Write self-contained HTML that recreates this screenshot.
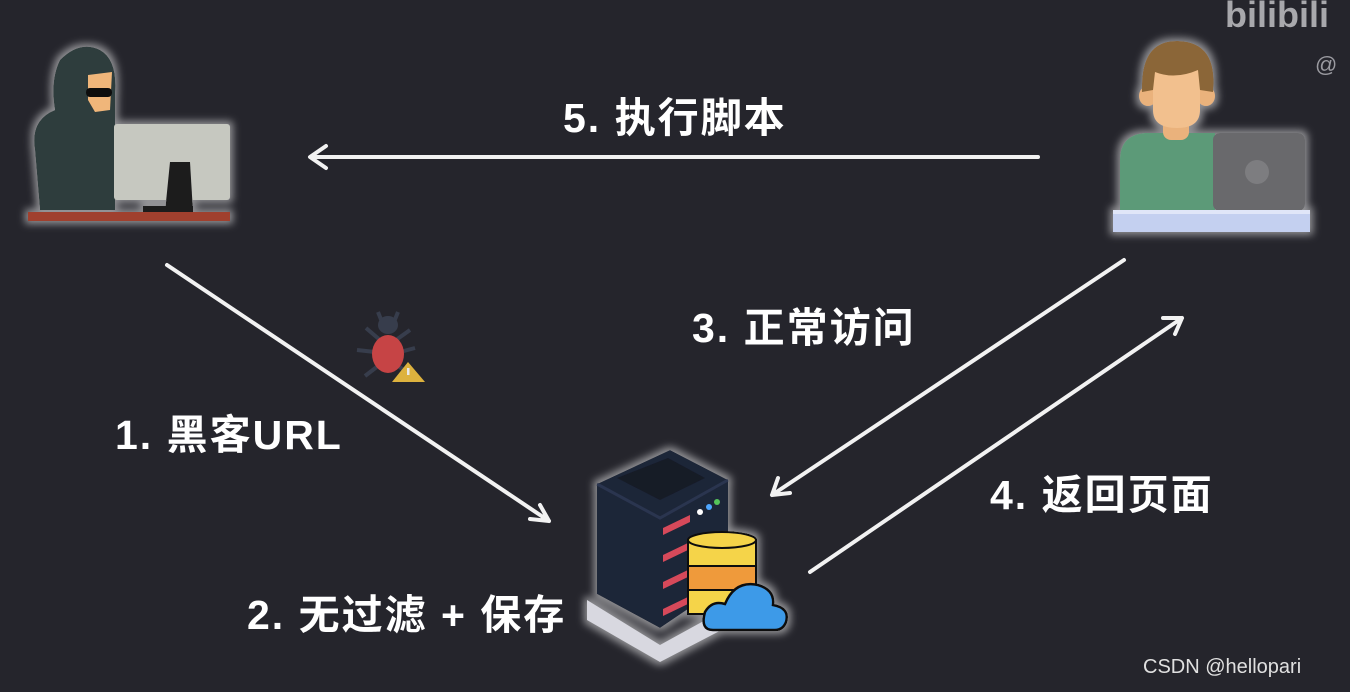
<!DOCTYPE html>
<html><head><meta charset="utf-8"><style>
html,body{margin:0;padding:0}
body{width:1350px;height:692px;background:#25252c;position:relative;overflow:hidden;font-family:"Liberation Sans","Noto Sans CJK SC",sans-serif}
.t{position:absolute;color:#fff;font-weight:bold;font-size:41px;letter-spacing:2px;white-space:nowrap;line-height:1}
</style></head><body>
<svg width="1350" height="692" style="position:absolute;left:0;top:0">
<defs>
<filter id="g" x="-20%" y="-20%" width="140%" height="140%"><feMorphology in="SourceAlpha" operator="dilate" radius="3" result="d"/><feGaussianBlur in="d" stdDeviation="4"/><feComponentTransfer><feFuncA type="linear" slope="0.5"/></feComponentTransfer><feColorMatrix type="matrix" values="0 0 0 0 1  0 0 0 0 1  0 0 0 0 1  0 0 0 1 0"/><feMerge><feMergeNode/><feMergeNode in="SourceGraphic"/></feMerge></filter>
</defs>
<text x="1225" y="27" fill="#a8a8ac" font-size="36" font-weight="bold" font-family="Liberation Sans">bilibili</text>
<text x="1315" y="72" fill="#9a9aa0" font-size="22" font-family="Liberation Sans">@</text>
<g filter="url(#g)">
<path d="M40,210 L35,150 Q30,120 55,110 Q50,80 60,60 Q80,40 100,50 Q118,60 115,95 L115,210 Z" fill="#2f3d3d"/>
<path d="M88,75 L112,72 L110,110 L95,112 L88,100 Z" fill="#f0b67a"/>
<rect x="86" y="88" width="26" height="9" rx="4" fill="#111"/>
<rect x="114" y="124" width="116" height="76" rx="3" fill="#c6c8c0"/>
<path d="M170,162 L190,162 L193,212 L165,212 Z" fill="#1c1c1c"/>
<rect x="143" y="206" width="50" height="6" fill="#1c1c1c"/>
<rect x="28" y="212" width="202" height="9" fill="#a0402e"/>
</g>
<g filter="url(#g)">
<path d="M1120,210 L1120,160 Q1120,135 1145,133 L1215,133 L1215,210 Z" fill="#5b9a78"/>
<rect x="1163" y="110" width="26" height="30" rx="8" fill="#eab27c"/>
<ellipse cx="1148" cy="96" rx="9" ry="10" fill="#eab27c"/>
<ellipse cx="1206" cy="96" rx="9" ry="10" fill="#eab27c"/>
<path d="M1153,70 L1200,70 L1200,110 Q1200,128 1177,128 Q1153,128 1153,110 Z" fill="#f2c08e"/>
<path d="M1142,92 Q1140,40 1178,41 Q1218,42 1213,92 L1200,90 L1198,70 Q1175,80 1155,72 L1153,90 Z" fill="#8b6637"/>
<rect x="1213" y="133" width="92" height="78" rx="7" fill="#69696c"/>
<circle cx="1257" cy="172" r="12" fill="#7d7d80"/>
<rect x="1113" y="210" width="197" height="22" fill="#c4d0f0"/>
<rect x="1113" y="210" width="197" height="4" fill="#e0e6f8"/>
</g>
<g filter="url(#g)">
<path d="M587,600 L660,645 L760,590 L760,610 L660,662 L587,620 Z" fill="#d8d8e0"/>
<path d="M597,484 L670,450 L728,480 L728,582 L660,628 L597,594 Z" fill="#1e2538"/>
<path d="M597,484 L660,518 L728,480" fill="none" stroke="#2b3550" stroke-width="3"/>
<path d="M617,478 L668,458 L705,478 L660,500 Z" fill="#141a28"/>
<g fill="#d64a5a"><path d="M663,528 L690,515 L690,522 L663,535Z"/><path d="M663,555 L690,542 L690,549 L663,562Z"/><path d="M663,582 L690,569 L690,576 L663,589Z"/><path d="M663,609 L690,596 L690,603 L663,616Z"/></g>
<circle cx="700" cy="512" r="3" fill="#fff"/><circle cx="709" cy="507" r="3" fill="#4da6ff"/><circle cx="717" cy="502" r="3" fill="#54c45a"/>
<rect x="688" y="540" width="68" height="26" fill="#f5d44a" stroke="#111" stroke-width="2"/>
<ellipse cx="722" cy="540" rx="34" ry="8" fill="#f5d44a" stroke="#111" stroke-width="2"/>
<rect x="688" y="566" width="68" height="24" fill="#ef9a3a" stroke="#111" stroke-width="2"/>
<rect x="688" y="590" width="68" height="24" fill="#f5d44a" stroke="#111" stroke-width="2"/>
<path d="M713,630 Q700,630 705,612 Q712,600 725,604 Q735,580 758,585 Q775,590 773,605 Q790,608 786,622 Q783,630 775,630 Z" fill="#3d9ae8" stroke="#111" stroke-width="2.5"/>
</g>
<g opacity="0.9">
<g stroke="#3a4050" stroke-width="4" fill="none"><path d="M380,340 L366,328 M396,340 L410,330 M375,352 L357,350 M400,352 L415,348 M378,366 L365,376 M398,366 L410,374 M382,322 L378,312 M394,322 L398,312"/></g>
<ellipse cx="388" cy="325" rx="10" ry="9" fill="#3a4050"/>
<ellipse cx="388" cy="354" rx="16" ry="19" fill="#d84848"/>
<path d="M408,362 L392,382 L425,382 Z" fill="#f2c240"/>
<rect x="407" y="368" width="2.5" height="7" fill="#fff"/>
</g>
<g stroke="#f2f2f2" stroke-width="4" fill="none" stroke-linecap="round" stroke-linejoin="round">
<path d="M1038,157 L312,157 M326,146 L310,157 L326,168"/>
<path d="M167,265 L549,521 M530,519 L549,521 L540,505"/>
<path d="M1124,260 L772,495 M778,478 L772,495 L790,493"/>
<path d="M810,572 L1182,318 M1163,318 L1182,318 L1175,334"/>
</g>
</svg>
<div class="t" style="left:563px;top:98px">5. 执行脚本</div>
<div class="t" style="left:692px;top:308px">3. 正常访问</div>
<div class="t" style="left:115px;top:415px">1. 黑客URL</div>
<div class="t" style="left:990px;top:475px">4. 返回页面</div>
<div class="t" style="left:247px;top:595px">2. 无过滤 + 保存</div>
<div style="position:absolute;left:1143px;top:656px;color:#e0e0e0;font-size:20px">CSDN @hellopari</div>
</body></html>
